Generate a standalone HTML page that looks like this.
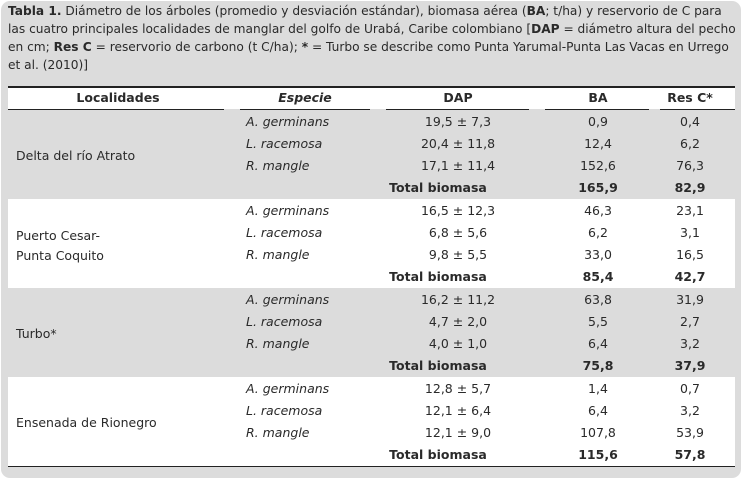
<!DOCTYPE html>
<html><head><meta charset="utf-8">
<style>
*{margin:0;padding:0;box-sizing:border-box}
body{width:747px;height:481px;background:#fff;font-family:"DejaVu Sans","Liberation Sans",sans-serif;color:#2a2a2a;position:relative;overflow:hidden}
#box{position:absolute;left:1px;top:1px;width:740px;height:477px;background:#dcdcdc;border-radius:9px}
#cap{position:absolute;left:8px;top:2px;width:735px;font-size:12.2px;line-height:18px;white-space:nowrap}
.t{position:absolute;font-size:12.5px;white-space:nowrap;line-height:22px}
.c{transform:translateX(-50%)}
.b{font-weight:bold}
.i{font-style:italic}
.band{position:absolute;left:8px;width:727px}
.line{position:absolute;background:#222}
</style></head><body>
<div id="box"></div>
<div id="cap"><b>Tabla 1.</b> Diámetro de los árboles (promedio y desviación estándar), biomasa aérea (<b>BA</b>; t/ha) y reservorio de C para<br>las cuatro principales localidades de manglar del golfo de Urabá, Caribe colombiano [<b>DAP</b> = diámetro altura del pecho<br>en cm; <b>Res C</b> = reservorio de carbono (t C/ha); <b>*</b> = Turbo se describe como Punta Yarumal-Punta Las Vacas en Urrego<br>et al. (2010)]</div>
<div class="band" style="top:87px;height:22px;background:#fff"></div>
<div class="line" style="left:8px;top:86px;width:727px;height:2px"></div>
<div class="band" style="top:199px;height:89px;background:#fff"></div>
<div class="band" style="top:377px;height:89px;background:#fff"></div>
<div class="line" style="left:8px;top:466px;width:727px;height:1px"></div>
<div class="line" style="left:8px;top:109px;width:216px;height:1px"></div>
<div class="line" style="left:240px;top:109px;width:130px;height:1px"></div>
<div class="line" style="left:386px;top:109px;width:143px;height:1px"></div>
<div class="line" style="left:545px;top:109px;width:104px;height:1px"></div>
<div class="line" style="left:660px;top:109px;width:75px;height:1px"></div>
<div class="t b c" style="left:118px;top:87px">Localidades</div>
<div class="t b i c" style="left:305px;top:87px">Especie</div>
<div class="t b c" style="left:458px;top:87px">DAP</div>
<div class="t b c" style="left:598px;top:87px">BA</div>
<div class="t b c" style="left:690px;top:87px">Res C*</div>
<div id="rows"></div>
<script>
const locs=[["Delta del río Atrato"],["Puerto Cesar-","Punta Coquito"],["Turbo*"],["Ensenada de Rionegro"]];
const species=["A. germinans","L. racemosa","R. mangle"];
const dap=[["19,5 ± 7,3","20,4 ± 11,8","17,1 ± 11,4"],["16,5 ± 12,3","6,8 ± 5,6","9,8 ± 5,5"],["16,2 ± 11,2","4,7 ± 2,0","4,0 ± 1,0"],["12,8 ± 5,7","12,1 ± 6,4","12,1 ± 9,0"]];
const ba=[["0,9","12,4","152,6","165,9"],["46,3","6,2","33,0","85,4"],["63,8","5,5","6,4","75,8"],["1,4","6,4","107,8","115,6"]];
const resc=[["0,4","6,2","76,3","82,9"],["23,1","3,1","16,5","42,7"],["31,9","2,7","3,2","37,9"],["0,7","3,2","53,9","57,8"]];
const R=document.getElementById('rows');
function add(txt,cls,left,top,name){
  const d=document.createElement('div');
  d.className='t '+cls;d.style.left=left+'px';d.style.top=top+'px';d.textContent=txt;
  
  
  R.appendChild(d);
}
for(let s=0;s<4;s++){
  const y0=111+s*89;
  const L=locs[s];
  const ly=y0+33-(L.length-1)*9+1;
  L.forEach((t,k)=>add(t,'',16,ly+k*20,'locality-name'));
  for(let r=0;r<3;r++){
    const y=y0+r*22;
    add(species[r],'i',246,y,'species-name');
    add(dap[s][r],'c',458,y,'dap-value');
    add(ba[s][r],'c',598,y,'ba-value');
    add(resc[s][r],'c',690,y,'res-c-value');
  }
  const ty=y0+66;
  add('Total biomasa','b c',438,ty,'total-label');
  add(ba[s][3],'b c',598,ty,'ba-total');
  add(resc[s][3],'b c',690,ty,'res-c-total');
}
</script>
</body></html>
